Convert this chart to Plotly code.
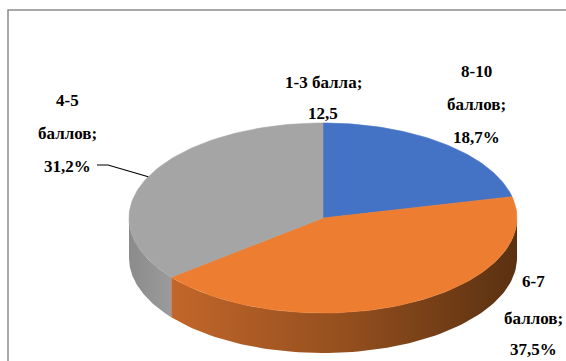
import math
import plotly.graph_objects as go

# Score groups and their shares (clockwise from 12 o'clock)
categories = ["1-3 балла", "8-10 баллов", "6-7 баллов", "4-5 баллов"]
values = [0.0, 18.7, 37.5, 31.2]
value_text = ["12,5", "18,7%", "37,5%", "31,2%"]
top_colors = ["#ffc000", "#4472c4", "#ed7d31", "#a5a5a5"]
side_colors = [
    [[0, "#c89000"], [1, "#7a5800"]],
    [[0, "#3660a8"], [1, "#253f70"]],
    [[0, "#c2662a"], [0.5, "#944f1e"], [1, "#5a3111"]],
    [[0, "#8b8b8b"], [1, "#9b9b9b"]],
]

# Pie geometry in page pixels
W, H = 566, 361
CX, CY = 323, 218
RX, RY = 194, 95
DEPTH = 40


def pt(t_deg, dy=0.0):
    t = math.radians(t_deg)
    return CX + RX * math.cos(t), CY - RY * math.sin(t) + dy


def arc(a, b, dy=0.0, n=80):
    xs, ys = [], []
    for i in range(n + 1):
        x, y = pt(a + (b - a) * i / n, dy)
        xs.append(x)
        ys.append(y)
    return xs, ys


total = sum(values)
angles = []
start = 90.0
for v in values:
    end = start - v / total * 360.0
    angles.append((start, end))
    start = end

fig = go.Figure()

# Side walls: only the front half (sin < 0) is visible
for (a, b), cs in zip(angles, side_colors):
    if a == b:
        continue
    for shift in (0.0, -360.0, 360.0):
        lo, hi = max(b, -180.0 + shift), min(a, 0.0 + shift)
        if hi <= lo:
            continue
        tx, ty = arc(hi, lo)
        bx, by = arc(lo, hi, DEPTH)
        fig.add_trace(go.Scatter(
            x=tx + bx + [tx[0]], y=ty + by + [ty[0]],
            mode="lines", fill="toself",
            line=dict(width=0), fillgradient=dict(type="horizontal", colorscale=cs),
            hoverinfo="skip", showlegend=False,
        ))

# Top faces
for (a, b), col in zip(angles, top_colors):
    if a == b:
        continue
    xs, ys = arc(a, b)
    fig.add_trace(go.Scatter(
        x=[CX] + xs + [CX], y=[CY] + ys + [CY],
        mode="lines", fill="toself", fillcolor=col,
        line=dict(width=0.6, color=col),
        hoverinfo="skip", showlegend=False,
    ))

# Data labels
label_lines = {
    0: ([f"{categories[0]};", value_text[0]], 323, [82, 113]),
    1: (["8-10", "баллов;", value_text[1]], 476, [71, 104, 137]),
    3: (["4-5", "баллов;", value_text[3]], 67, [100, 133, 166]),
    2: (["6-7", "баллов;", value_text[2]], 533, [281, 318, 349]),
}
annotations = []
for idx, (lines, x, ys) in label_lines.items():
    for txt, y in zip(lines, ys):
        annotations.append(dict(
            x=x, y=y, xref="x", yref="y", text=f"<b>{txt}</b>",
            showarrow=False, xanchor="center", yanchor="middle",
        ))

# Leader line for the 4-5 slice, ending at its mid-angle on the rim
a, b = angles[3]
ex, ey = pt((a + b) / 2)
fig.add_trace(go.Scatter(
    x=[97, 108, ex], y=[165, 165, ey], mode="lines",
    line=dict(color="#000000", width=1.2),
    hoverinfo="skip", showlegend=False,
))

fig.update_layout(
    width=W, height=H,
    margin=dict(l=0, r=0, t=0, b=0),
    font=dict(family="Liberation Serif", size=17, color="#000000"),
    paper_bgcolor="#ffffff", plot_bgcolor="#ffffff",
    xaxis=dict(range=[0, W], visible=False, fixedrange=True),
    yaxis=dict(range=[H, 0], visible=False, fixedrange=True),
    annotations=annotations,
    shapes=[dict(type="rect", xref="x", yref="y", x0=8, y0=10, x1=W + 10, y1=H + 10,
                 line=dict(color="#8c8c8c", width=1.5), fillcolor="rgba(0,0,0,0)", layer="below")],
)

fig.write_html("out.html")
